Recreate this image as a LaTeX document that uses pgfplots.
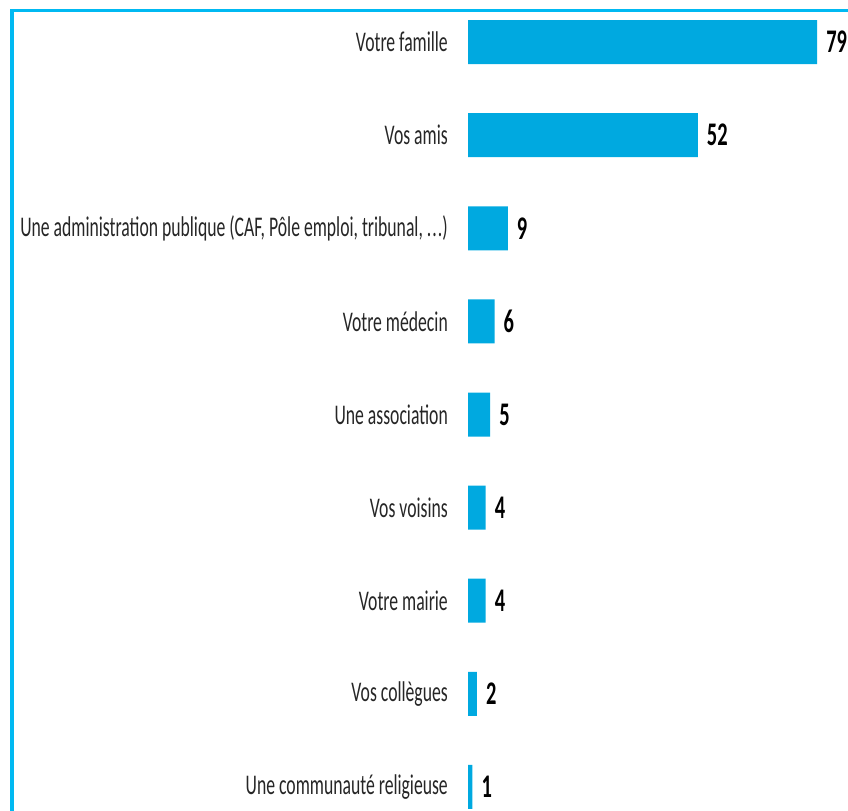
\documentclass[border=0pt]{standalone}
\usepackage{pgfplots}
\pgfplotsset{compat=1.18}
\usepackage{fontspec}
\setmainfont{Carlito}
\newfontfamily\condfont[FakeStretch=0.62]{Carlito}
\definecolor{barblue}{HTML}{00A9E0}
\definecolor{frameblue}{HTML}{00B9F2}
\begin{document}
\begin{tikzpicture}
\useasboundingbox (0,0) rectangle (848bp,-811bp);
\draw[frameblue, line width=3.5bp] (12bp,-830bp) -- (12bp,-10.5bp) -- (870bp,-10.5bp);
\begin{axis}[
  at={(468bp,4.5bp)}, anchor=north west,
  scale only axis, width=380bp, height=838bp,
  xbar, bar width=44bp, bar shift=0pt,
  xmin=0, xmax=86, ymin=-0.5, ymax=8.5, y dir=reverse,
  axis line style={draw=none},
  xtick=\empty,
  ytick={0,1,2,3,4,5,6,7,8},
  yticklabels={Votre famille, Vos amis, {Une administration publique (CAF, Pôle emploi, tribunal, .\kern1pt.\kern1pt.)}, Votre médecin, Une association, Vos voisins, Votre mairie, Vos collègues, Une communauté religieuse},
  major tick length=0pt,
  yticklabel style={font=\condfont\fontsize{28.5bp}{31bp}\selectfont, text=black!85, inner sep=0pt, xshift=-20bp, anchor=east},
  /pgf/number format/assume math mode=true,
  nodes near coords,
  nodes near coords style={font=\condfont\bfseries\fontsize{33bp}{36bp}\selectfont, text=black, anchor=west, inner sep=0pt, xshift=9bp},
  clip=false,
]
\addplot[fill=barblue, draw=none] coordinates {
(79,0) (52,1) (9,2) (6,3) (5,4) (4,5) (4,6) (2,7) (1,8)};
\end{axis}
\end{tikzpicture}
\end{document}
